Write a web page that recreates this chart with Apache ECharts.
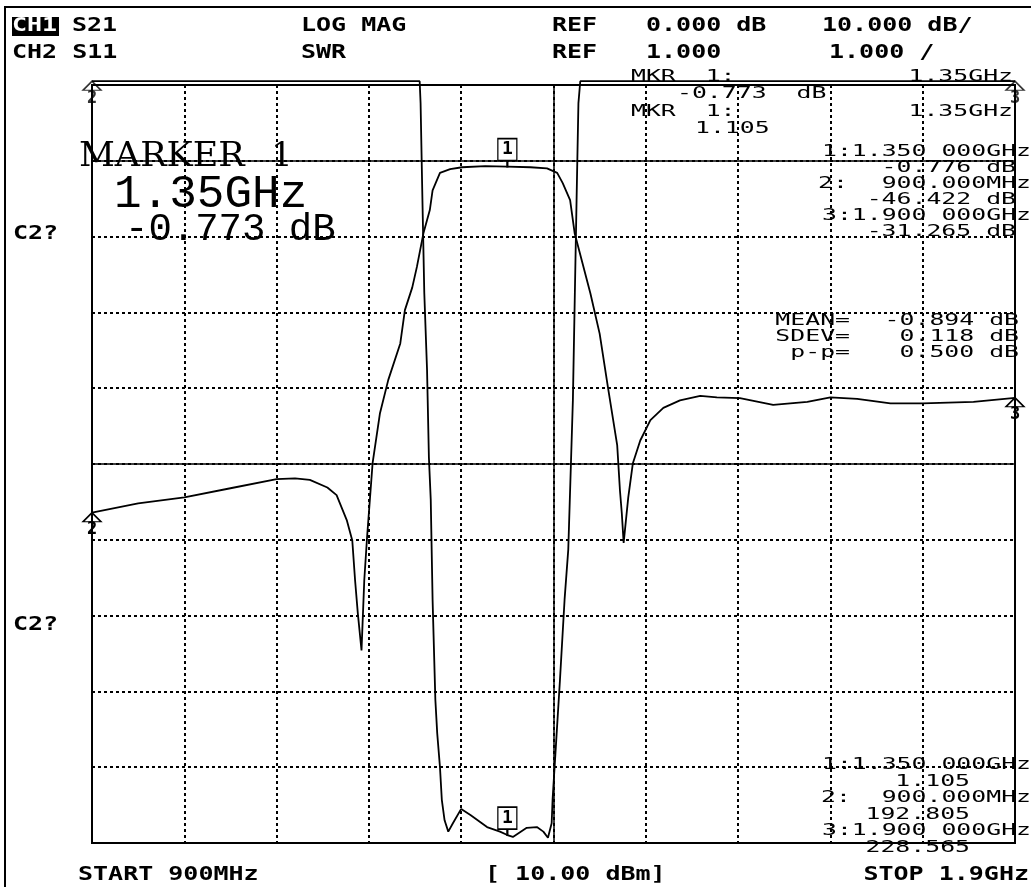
<!DOCTYPE html>
<html><head><meta charset="utf-8">
<script src="https://cdn.jsdelivr.net/npm/echarts@6/dist/echarts.min.js"></script>
<style>html,body{margin:0;padding:0;background:#fff}#c{width:1031px;height:887px}</style>
</head><body><div id="c"></div>
<script>
// ---- data (frequency in MHz) ----
const s21Freq = [900, 950, 1000, 1050, 1100, 1120, 1136, 1155, 1165, 1176, 1182, 1185, 1188, 1192, 1195, 1198, 1204, 1212, 1221, 1234, 1239, 1247, 1252, 1259, 1266, 1269, 1277, 1288, 1301, 1326, 1350, 1375, 1393, 1404, 1410, 1418, 1423, 1440, 1450, 1459, 1469, 1472, 1474, 1476, 1481, 1486, 1494, 1505, 1519, 1537, 1559, 1577, 1602, 1638, 1675, 1700, 1729, 1765, 1800, 1855, 1900];
const s21dB = [-46.4, -45.2, -44.4, -43.2, -42.0, -41.9, -42.1, -43.1, -44.1, -47.4, -50.1, -55.3, -59.7, -64.6, -55.3, -49.7, -39.9, -33.3, -28.9, -24.1, -19.7, -16.7, -14.0, -9.6, -6.5, -3.9, -1.6, -1.1, -0.85, -0.7, -0.773, -0.85, -1.0, -1.6, -2.95, -5.2, -9.6, -17.5, -22.8, -29.9, -37.5, -43.5, -46.5, -50.4, -44.4, -39.9, -36.9, -34.2, -32.6, -31.6, -31.0, -31.2, -31.3, -32.2, -31.8, -31.2, -31.4, -32.0, -32.0, -31.8, -31.265];
// SWR as displayed (off-scale values sit on the top edge of the screen)
const swrFreq = [900, 1000, 1100, 1200, 1255, 1256, 1258, 1260, 1263, 1265, 1267, 1269, 1272, 1274, 1277, 1279, 1282, 1286, 1291, 1300, 1310, 1328, 1342, 1350, 1356, 1371, 1382, 1389, 1394, 1398, 1399, 1403, 1407, 1412, 1416, 1419, 1421, 1423, 1425, 1427, 1429, 1500, 1600, 1700, 1800, 1900];
const swrVal = [11.05, 11.05, 11.05, 11.05, 11.05, 10.76, 9.48, 8.26, 7.24, 6.09, 5.53, 4.21, 2.89, 2.45, 2.0, 1.57, 1.30, 1.15, 1.26, 1.45, 1.37, 1.21, 1.15, 1.105, 1.08, 1.20, 1.21, 1.15, 1.07, 1.26, 1.57, 2.36, 3.15, 4.21, 4.87, 6.05, 6.84, 8.16, 9.48, 10.76, 11.05, 11.05, 11.05, 11.05, 11.05, 11.05];
const markerFreq = [1350, 900, 1900];
const markerS21 = [-0.773, -46.422, -31.265];
const markerSwrShown = [1.105, 11.05, 11.05];

const header1 = ['S21', 'LOG MAG', 'REF', '0.000 dB', '10.000 dB/'];
const header2 = ['CH2 S11', 'SWR', 'REF', '1.000', '1.000 /'];
const footer = ['START 900MHz', '[ 10.00 dBm]', 'STOP 1.9GHz'];

const HDR = 'bold 20px "DejaVu Sans Mono"';
const RD = '16px "DejaVu Sans Mono"';
function txt(s, x, y, font, align, sx, fill) {
  return { type: 'text', x: x, y: y, scaleX: sx || 1, z: 100, silent: true,
    style: { text: s, font: font, fill: fill || '#000', align: align || 'left', verticalAlign: 'middle' } };
}
const H = (s, x, y, a) => txt(s, x, y, HDR, a, 1.25);
const R = (s, x, y, a) => txt(s, x, y, RD, a, 1.55);

const graphics = [
  { type: 'rect', shape: { x: 5, y: 7, width: 1100, height: 1000 }, style: { fill: 'none', stroke: '#000', lineWidth: 2 }, silent: true },
  { type: 'rect', shape: { x: 12, y: 17, width: 47, height: 19 }, style: { fill: '#000' }, silent: true, z: 99 },
  txt('CH1', 12, 26, HDR, 'left', 1.25, '#fff'),
  H(header1[0], 72, 26), H(header1[1], 301, 26), H(header1[2], 552, 26), H(header1[3], 646, 26), H(header1[4], 822, 26),
  H(header2[0], 12, 53), H(header2[1], 301, 53), H(header2[2], 552, 53), H(header2[3], 646, 53), H(header2[4], 829, 53),
  H(footer[0], 78, 875), H(footer[1], 485, 875), H(footer[2], 1029, 875, 'right'),
  H('C2?', 13, 234), H('C2?', 13, 625),
  txt('MARKER', 79, 157, '34px "DejaVu Serif"', 'left', 1.03),
  txt('1', 271, 157, '34px "DejaVu Serif"'),
  txt('1.35GHz', 114, 195, '46px "Liberation Mono"'),
  txt('-0.773 dB', 125, 230, '39px "Liberation Mono"'),
  R('MKR  1:', 631, 77), R('1.35GHz', 1013, 77, 'right'),
  R('-0.773  dB', 677, 94),
  R('MKR  1:', 631, 112), R('1.35GHz', 1013, 112, 'right'),
  R('1.105', 695, 129),
  R('1:1.350 000GHz', 1031, 152, 'right'),
  R('-0.776 dB', 1016, 168, 'right'),
  R('2:', 818, 184), R('900.000MHz', 1031, 184, 'right'),
  R('-46.422 dB', 1016, 200, 'right'),
  R('3:1.900 000GHz', 1031, 216, 'right'),
  R('-31.265 dB', 1016, 232, 'right'),
  R('MEAN=', 850, 321, 'right'), R('-0.894 dB', 1019, 321, 'right'),
  R('SDEV=', 850, 337, 'right'), R('0.118 dB', 1019, 337, 'right'),
  R('p-p=', 850, 353, 'right'), R('0.500 dB', 1019, 353, 'right'),
  R('1:1.350 000GHz', 1031, 765, 'right'),
  R('1.105', 970, 782, 'right'),
  R('2:', 821, 798), R('900.000MHz', 1031, 798, 'right'),
  R('192.805', 970, 815, 'right'),
  R('3:1.900 000GHz', 1031, 831, 'right'),
  R('228.565', 970, 848, 'right')
];

const boxSym = 'path://M0,0H19V22H0ZM9,22H10V28H9Z';
const triSym = 'path://M9,0L18,9H0Z';
const numLabel = (n) => ({ show: true, formatter: n, position: 'bottom', distance: -1, color: '#000',
  fontFamily: 'DejaVu Sans Mono', fontWeight: 'bold', fontSize: 17 });
function boxItem(coord) {
  return { coord: coord, symbol: boxSym, symbolSize: [19, 28], symbolOffset: [0, -14],
    itemStyle: { color: '#fff', borderColor: '#000', borderWidth: 1.5 },
    label: { show: true, formatter: '1', position: 'inside', offset: [0, -3], color: '#000',
      fontFamily: 'DejaVu Sans Mono', fontWeight: 'bold', fontSize: 18 } };
}
function triItem(coord, n) {
  return { coord: coord, symbol: triSym, symbolSize: [18, 9], symbolOffset: [0, 4.5],
    itemStyle: { color: 'rgba(0,0,0,0)', borderColor: '#000', borderWidth: 1.5 }, label: numLabel(n) };
}

const chart = echarts.init(document.getElementById('c'));
chart.setOption({
  animation: false,
  backgroundColor: '#fff',
  grid: { left: 92, top: 85, right: 16, bottom: 44, show: true, borderColor: '#000', borderWidth: 2, backgroundColor: 'rgba(0,0,0,0)' },
  xAxis: { type: 'value', min: 900, max: 1900, interval: 100,
    axisLine: { show: false }, axisTick: { show: false }, axisLabel: { show: false },
    splitLine: { show: true, lineStyle: { color: '#000', type: [3, 3], width: 2 } } },
  yAxis: [
    { type: 'value', min: -90, max: 10, interval: 10,
      axisLine: { show: false }, axisTick: { show: false }, axisLabel: { show: false },
      splitLine: { show: true, lineStyle: { color: '#000', type: [3, 3], width: 2 } } },
    { type: 'value', min: 1, max: 11, interval: 1, position: 'right',
      axisLine: { show: false }, axisTick: { show: false }, axisLabel: { show: false }, splitLine: { show: false } }
  ],
  graphic: graphics,
  series: [
    { type: 'line', name: 'S21', yAxisIndex: 0, showSymbol: false, smooth: false, clip: false,
      lineStyle: { color: '#000', width: 1.8 },
      data: s21Freq.map((f, i) => [f, s21dB[i]]),
      markLine: { silent: true, symbol: ['none', 'none'], label: { show: false },
        lineStyle: { color: '#000', type: 'solid', width: 1.5 },
        data: [{ xAxis: 1400 }, { yAxis: 0 }, { yAxis: -40 }] },
      markPoint: { silent: true, data: [
        boxItem([markerFreq[0], markerS21[0]]),
        triItem([markerFreq[1], markerS21[1]], '2'),
        triItem([markerFreq[2], markerS21[2]], '3')] } },
    { type: 'line', name: 'SWR', yAxisIndex: 1, showSymbol: false, smooth: false, clip: false,
      lineStyle: { color: '#000', width: 1.8 },
      data: swrFreq.map((f, i) => [f, swrVal[i]]),
      markPoint: { silent: true, data: [boxItem([markerFreq[0], markerSwrShown[0]])] } },
    { type: 'scatter', name: 'SWR markers', yAxisIndex: 1, clip: false, silent: true,
      symbol: triSym, symbolSize: [18, 9], symbolOffset: [0, 4.5],
      itemStyle: { color: 'rgba(0,0,0,0)', borderColor: '#000', borderWidth: 1.5 },
      data: [
        { value: [markerFreq[1], markerSwrShown[1]], label: numLabel('2') },
        { value: [markerFreq[2], markerSwrShown[2]], label: numLabel('3') }
      ] }
  ]
});
</script></body></html>
